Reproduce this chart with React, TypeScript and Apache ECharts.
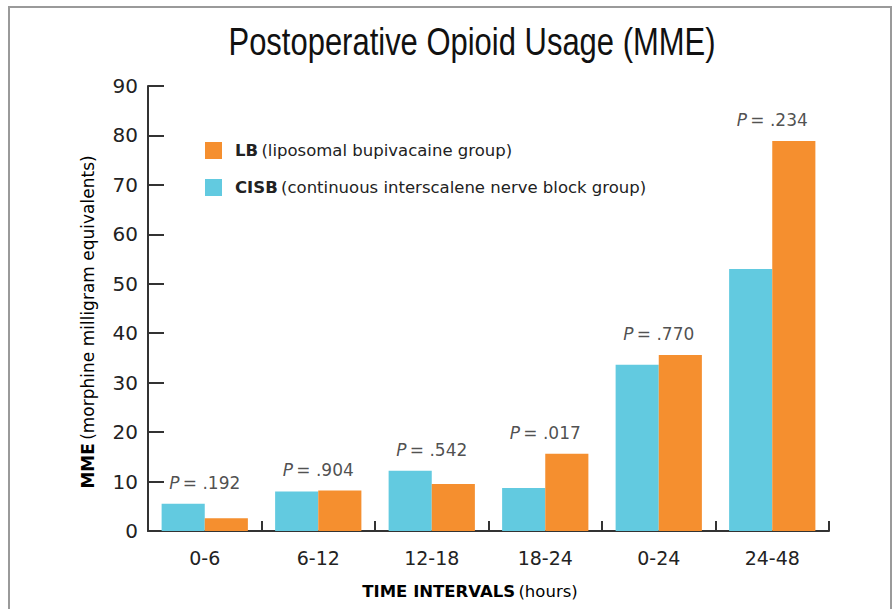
import React, { useEffect, useRef } from "react";
import * as echarts from "echarts";

const categories = ["0-6", "6-12", "12-18", "18-24", "0-24", "24-48"];
const cisbValues = [5.5, 8.0, 12.2, 8.7, 33.6, 53.0];
const lbValues = [2.6, 8.2, 9.5, 15.6, 35.6, 78.9];
const pValues = [".192", ".904", ".542", ".017", ".770", ".234"];
const yTicks = { min: 0, max: 90, interval: 10 };

const CYAN = "#62CAE0";
const ORANGE = "#F58F2F";
const FONT = "'DejaVu Sans', sans-serif";

export default function App() {
  const ref = useRef<HTMLDivElement>(null);
  useEffect(() => {
    if (!ref.current) return;
    const chart = echarts.init(ref.current, null, { renderer: "svg" });
    const maxVals = cisbValues.map((v, i) => Math.max(v, lbValues[i]));
    chart.setOption({
      animation: false,
      backgroundColor: "#ffffff",
      legend: {
        data: ["LB", "CISB"],
        orient: "vertical",
        left: 205,
        top: 142,
        padding: 0,
        itemWidth: 17,
        itemHeight: 17,
        itemGap: 20,
        icon: "rect",
        formatter: (name: string) =>
          name === "LB"
            ? "{b|LB} {n|(liposomal bupivacaine group)}"
            : "{b|CISB} {n|(continuous interscalene nerve block group)}",
        textStyle: {
          rich: {
            b: { fontFamily: FONT, fontWeight: "bold", fontSize: 16.5, color: "#222", padding: [0, 0, 0, 8] },
            n: { fontFamily: FONT, fontSize: 16.5, color: "#222" },
          },
        },
      },
      graphic: [
        {
          type: "rect",
          shape: { x: 9, y: 7, width: 882, height: 640 },
          style: { fill: "none", stroke: "#9a9a9a", lineWidth: 2 },
          silent: true,
        },
        {
          type: "text",
          x: 472,
          y: 42,
          scaleX: 0.815,
          style: {
            text: "Postoperative Opioid Usage (MME)",
            align: "center",
            verticalAlign: "middle",
            fontFamily: "'Liberation Sans', Arial, sans-serif",
            fontSize: 38,
            fill: "#111",
          },
        },
        {
          type: "text",
          x: 88,
          y: 322,
          rotation: Math.PI / 2,
          style: {
            text: "{b|MME} {n|(morphine milligram equivalents)}",
            align: "center",
            verticalAlign: "middle",
            rich: {
              b: { fontFamily: FONT, fontWeight: "bold", fontSize: 17, color: "#111" },
              n: { fontFamily: FONT, fontSize: 17, color: "#222" },
            },
          },
        },
        {
          type: "text",
          x: 470,
          y: 591,
          style: {
            text: "{b|TIME INTERVALS} {n|(hours)}",
            align: "center",
            verticalAlign: "middle",
            rich: {
              b: { fontFamily: FONT, fontWeight: "bold", fontSize: 16.5, color: "#111" },
              n: { fontFamily: FONT, fontSize: 16.5, color: "#222" },
            },
          },
        },
      ],
      grid: { left: 148, right: 66, top: 86, bottom: 78, containLabel: false },
      xAxis: {
        type: "category",
        data: categories,
        axisLine: { lineStyle: { color: "#333", width: 2 } },
        axisTick: { show: true, inside: true, length: 10, lineStyle: { color: "#333", width: 2 } },
        axisLabel: { fontFamily: FONT, fontSize: 19, color: "#222", margin: 17 },
      },
      yAxis: {
        type: "value",
        min: yTicks.min,
        max: yTicks.max,
        interval: yTicks.interval,
        splitLine: { show: false },
        axisLine: { show: true, lineStyle: { color: "#333", width: 2 } },
        axisTick: { show: true, inside: true, length: 16, lineStyle: { color: "#333", width: 2 } },
        axisLabel: { fontFamily: FONT, fontSize: 20, color: "#222", margin: 10 },
      },
      series: [
        {
          name: "CISB",
          type: "bar",
          data: cisbValues,
          itemStyle: { color: CYAN },
          barGap: "0%",
          barCategoryGap: "24%",
        },
        {
          name: "LB",
          type: "bar",
          data: lbValues,
          itemStyle: { color: ORANGE },
          barGap: "0%",
          barCategoryGap: "24%",
        },
        {
          name: "P",
          type: "scatter",
          data: maxVals,
          symbolSize: 0,
          silent: true,
          label: {
            show: true,
            position: "top",
            distance: 12,
            formatter: (p: any) => `{i|P} {t|= ${pValues[p.dataIndex]}}`,
            rich: {
              i: { fontFamily: FONT, fontStyle: "italic", fontSize: 17, color: "#222" },
              t: { fontFamily: FONT, fontSize: 17, color: "#222" },
            },
          },
        },
      ],
    });
    return () => chart.dispose();
  }, []);
  return (
    <div
      ref={ref}
      style={{ position: "absolute", left: 0, top: 0, width: 895, height: 609 }}
    />
  );
}
